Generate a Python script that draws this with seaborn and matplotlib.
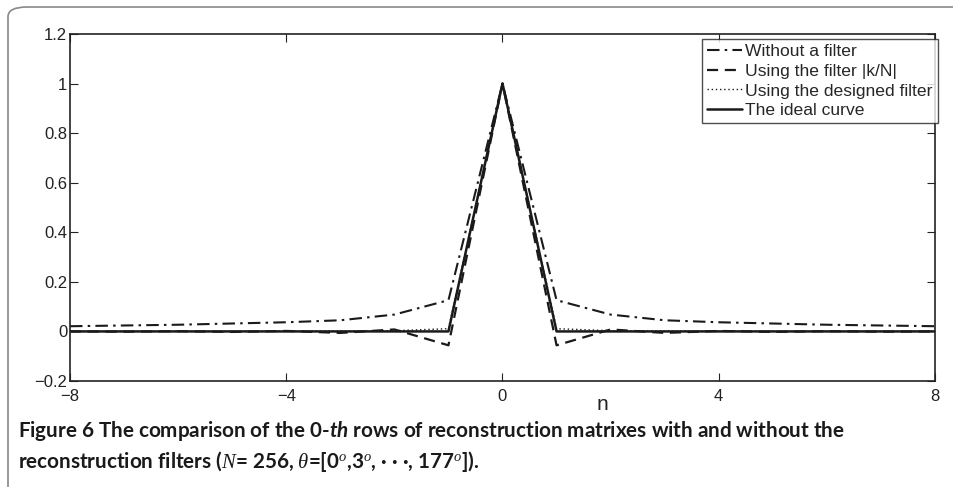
import numpy as np
import pandas as pd
import matplotlib
matplotlib.use('Agg')
import matplotlib.pyplot as plt
import seaborn as sns
from matplotlib.patches import FancyBboxPatch

# sample index
n = list(range(-8, 9))

# 0-th row of the reconstruction matrix
no_filter = [0.021, 0.024, 0.027, 0.032, 0.037, 0.045, 0.068, 0.126, 1.0,
             0.126, 0.068, 0.045, 0.037, 0.032, 0.027, 0.024, 0.021]
kn_filter = [0.0, -0.001, 0.001, -0.002, 0.002, -0.006, 0.008, -0.056, 1.0,
             -0.056, 0.008, -0.006, 0.002, -0.002, 0.001, -0.001, 0.0]
designed = [0.0, 0.0, 0.0, 0.0, 0.001, 0.001, 0.003, 0.011, 1.0,
            0.011, 0.003, 0.001, 0.001, 0.0, 0.0, 0.0, 0.0]
ideal = [0, 0, 0, 0, 0, 0, 0, 0, 1, 0, 0, 0, 0, 0, 0, 0, 0]

labels = ['Without a filter', 'Using the filter |k/N|',
          'Using the designed filter', 'The ideal curve']
styles = [(0, (6, 2.5, 1.2, 2.5)), (0, (5, 3)), (0, (1, 2)), '-']
widths = [1.5, 1.6, 1.0, 1.8]

sns.set_style('ticks')
plt.rcParams['font.family'] = ['Liberation Sans', 'DejaVu Sans']
plt.rcParams['mathtext.fontset'] = 'custom'
plt.rcParams['mathtext.rm'] = 'Lato:bold'
plt.rcParams['mathtext.it'] = 'Liberation Serif:italic'
plt.rcParams['mathtext.sf'] = 'Lato:italic:bold'

fig = plt.figure(figsize=(9.54, 4.87), dpi=100)
ax = fig.add_axes([70/954, 1 - 381/487, 865/954, 347/487])

df = pd.DataFrame({'n': n, 'a': no_filter, 'b': kn_filter, 'c': designed, 'd': ideal})
for col, lab, ls, lw in zip(['a', 'b', 'c', 'd'], labels, styles, widths):
    sns.lineplot(data=df, x='n', y=col, ax=ax, color='#1a1a1a',
                 linestyle=ls, linewidth=lw, label=lab)

ax.set_xlim(-8, 8)
ax.set_ylim(-0.2, 1.2)
ax.set_xticks([-8, -4, 0, 4, 8])
ax.set_xticklabels(['\u22128', '\u22124', '0', '4', '8'])
yt = [-0.2, 0, 0.2, 0.4, 0.6, 0.8, 1, 1.2]
ax.set_yticks(yt)
ax.set_yticklabels(['\u22120.2', '0', '0.2', '0.4', '0.6', '0.8', '1', '1.2'])
ax.tick_params(direction='in', length=6, width=0.8, labelsize=12, colors='#222222',
               top=True, right=True, pad=2)
ax.tick_params(axis='x', pad=5.5)
ax.set_xlabel('')
ax.set_ylabel('')
for s in ax.spines.values():
    s.set_color('#222222')
    s.set_linewidth(1.2)

leg = ax.legend(loc='upper right', bbox_to_anchor=(1.003, 0.986), fontsize=12.6,
                handlelength=2.0, handletextpad=0.15, borderpad=0.3,
                labelspacing=0.25, borderaxespad=0.0, fancybox=False,
                frameon=True, edgecolor='#222222')
leg.get_frame().set_linewidth(1.0)

fig.text(602/954, 1 - 405/487, 'n', ha='center', va='center', fontsize=15,
         color='#222222')

# rounded frame around the figure panel
frame = FancyBboxPatch((8/954, -0.1), 1.2, 1 - 7/487 + 0.1,
                       boxstyle='round,pad=0,rounding_size=0.02',
                       transform=fig.transFigure, fill=False,
                       edgecolor='#888888', linewidth=1.2, clip_on=False)
fig.patches.append(frame)

cap1 = 'Figure 6 The comparison of the 0-$\\mathsf{th}$ rows of reconstruction matrixes with and without the'
cap2 = ('reconstruction filters ($N$= 256, $\\theta$=[0$^{o}$,3$^{o}$, \u00b7 \u00b7 \u00b7, '
        '177$^{o}$]).')
fig.text(18/954, 1 - 431/487, cap1, ha='left', va='center', fontsize=14.9,
         family='Lato', weight='bold', color='#1a1a1a')
fig.text(18/954, 1 - 461/487, cap2, ha='left', va='center', fontsize=14.9,
         family='Lato', weight='bold', color='#1a1a1a')

fig.savefig('out.png', dpi=100)
